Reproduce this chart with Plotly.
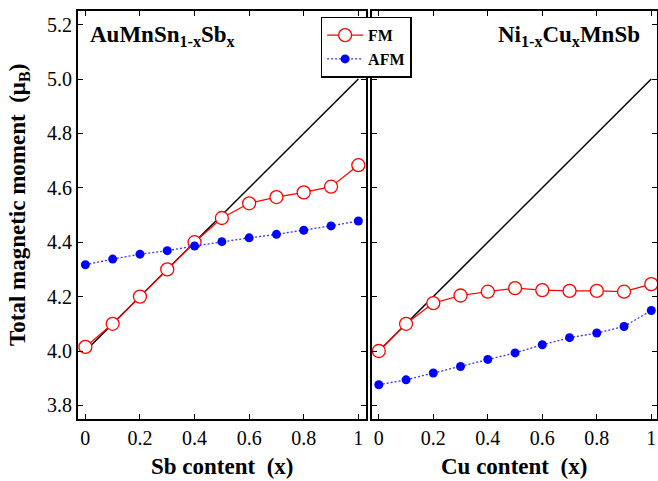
import plotly.graph_objects as go

# ---- data ----
x_vals = [0, 0.1, 0.2, 0.3, 0.4, 0.5, 0.6, 0.7, 0.8, 0.9, 1.0]

au_fm = [4.015, 4.10, 4.20, 4.30, 4.40, 4.489, 4.543, 4.566, 4.583, 4.604, 4.683]
au_afm = [4.317, 4.338, 4.356, 4.369, 4.386, 4.402, 4.416, 4.429, 4.444, 4.460, 4.478]

ni_fm = [4.00, 4.10, 4.176, 4.204, 4.218, 4.231, 4.224, 4.221, 4.221, 4.218, 4.246]
ni_afm = [3.876, 3.894, 3.919, 3.943, 3.969, 3.993, 4.023, 4.049, 4.066, 4.090, 4.149]

ref_x = [0, 1]
ref_y = [4.0, 5.0]

x_tickvals = [0, 0.2, 0.4, 0.6, 0.8, 1.0]
x_ticktext = ["0", "0.2", "0.4", "0.6", "0.8", "1"]
y_tickvals = [3.8, 4.0, 4.2, 4.4, 4.6, 4.8, 5.0, 5.2]
y_ticktext = ["3.8", "4.0", "4.2", "4.4", "4.6", "4.8", "5.0", "5.2"]

FONT = "Liberation Serif"
RED = "#ff0000"
BLUE = "#0000ff"

fig = go.Figure()

for xa, ya, fm, afm, show in [("x", "y", au_fm, au_afm, True),
                              ("x2", "y2", ni_fm, ni_afm, False)]:
    fig.add_trace(go.Scatter(x=ref_x, y=ref_y, mode="lines", xaxis=xa, yaxis=ya,
                             line=dict(color="black", width=1.5), showlegend=False))
    fig.add_trace(go.Scatter(x=x_vals, y=fm, mode="lines+markers", xaxis=xa, yaxis=ya,
                             name="<b>FM</b>", showlegend=show, legendgroup="fm",
                             line=dict(color=RED, width=1.2),
                             marker=dict(symbol="circle", size=13, color="white",
                                         line=dict(color=RED, width=1.3))))
    fig.add_trace(go.Scatter(x=x_vals, y=afm, mode="lines+markers", xaxis=xa, yaxis=ya,
                             name="<b>AFM</b>", showlegend=show, legendgroup="afm",
                             line=dict(color="#3333ff", width=1.3, dash="2px,2px"),
                             marker=dict(symbol="circle", size=9, color=BLUE)))

axis_common = dict(
    showgrid=False, zeroline=False, showline=True, linecolor="black", linewidth=2,
    mirror="ticks", ticks="inside", ticklen=5, tickwidth=1, tickcolor="black",
    tickfont=dict(family=FONT, size=20, color="black"), automargin=False,
)

fig.update_layout(
    width=658, height=481,
    margin=dict(l=78, r=1, t=11, b=62),
    paper_bgcolor="white", plot_bgcolor="white",
    template="none",
    font=dict(family=FONT, color="black"),
    xaxis=dict(domain=[0, 0.4969], range=[-0.027, 1.027],
               tickvals=x_tickvals, ticktext=x_ticktext, **axis_common),
    xaxis2=dict(domain=[0.5073, 1.0], range=[-0.026, 1.021], anchor="y2",
                tickvals=x_tickvals, ticktext=x_ticktext, **axis_common),
    yaxis=dict(range=[3.75, 5.25], tickvals=y_tickvals, ticktext=y_ticktext,
               **axis_common),
    yaxis2=dict(range=[3.75, 5.25], tickvals=y_tickvals, ticktext=y_ticktext,
                anchor="x2", showticklabels=False, **axis_common),
    legend=dict(x=0.419, y=0.986, xanchor="left", yanchor="top",
                bgcolor="white", bordercolor="black", borderwidth=1.5,
                font=dict(family=FONT, size=16, color="black"),
                tracegroupgap=0, itemwidth=36),
    showlegend=True,
)

annots = [
    dict(text="<b>AuMnSn<sub>1-x</sub>Sb<sub>x</sub></b>", xref="x domain", yref="y domain",
         x=0.0358, y=0.978, xanchor="left", yanchor="top", font=dict(size=23)),
    dict(text="<b>Ni<sub>1-x</sub>Cu<sub>x</sub>MnSb</b>", xref="x2 domain", yref="y2 domain",
         x=0.946, y=0.978, xanchor="right", yanchor="top", font=dict(size=23)),
    dict(text="<b>Sb content\u00a0\u00a0(x)</b>", xref="x domain", yref="paper",
         x=0.5, y=-0.1176, xanchor="center", yanchor="middle", font=dict(size=23)),
    dict(text="<b>Cu content\u00a0\u00a0(x)</b>", xref="x2 domain", yref="paper",
         x=0.5, y=-0.1176, xanchor="center", yanchor="middle", font=dict(size=23)),
    dict(text="<b>Total magnetic moment\u00a0\u00a0(\u03bc<sub>B</sub>)</b>", xref="paper", yref="paper",
         x=-0.1028, y=0.5257, xanchor="center", yanchor="middle", textangle=-90,
         font=dict(size=23)),
]
for a in annots:
    a["showarrow"] = False
    a["font"]["family"] = FONT
    a["font"]["color"] = "black"
    fig.add_annotation(**a)

fig.write_html("out.html",
               config={"displayModeBar": False},
               post_script="document.body.style.margin='0px';document.body.style.overflow='hidden';")
